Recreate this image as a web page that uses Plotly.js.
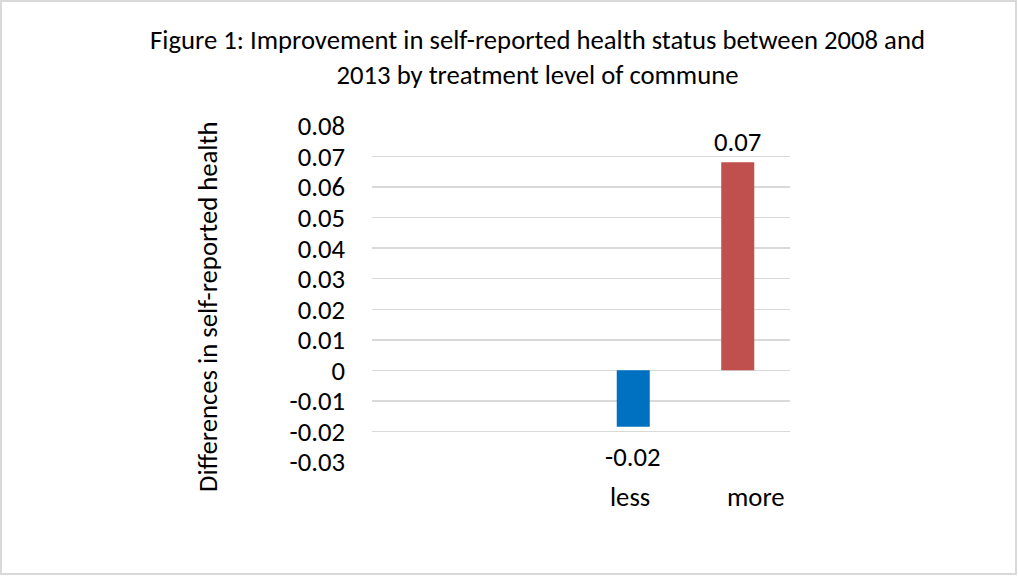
<!DOCTYPE html>
<html><head><meta charset="utf-8">
<script src="https://cdn.plot.ly/plotly-3.0.1.min.js"></script>
<style>html,body{margin:0;padding:0;background:#fff;}#chart{width:1018px;height:577px;}</style>
</head><body><div id="chart"></div>
<script>
const categories = ["", " ", "less", "more"];
const labelCategories = ["less", "more"];
const lessValue = [-0.0185];
const moreValue = [0.0681];
const barColors = ["#0070C0", "#C0504D"];
const titleText = "Figure 1: Improvement in self-reported health status between 2008 and<br>2013 by treatment level of commune";
const yTitle = "Differences in self-reported health";
const yTicks = [0.08, 0.07, 0.06, 0.05, 0.04, 0.03, 0.02, 0.01, 0, -0.01, -0.02, -0.03];
const yTickText = ["0.08","0.07","0.06","0.05","0.04","0.03","0.02","0.01","0","-0.01","-0.02","-0.03"];

const FONT = "Carlito, Calibri, 'Open Sans', sans-serif";
const FS = 26.7;

const traces = [
  {type:'bar', x:[labelCategories[0]], y:lessValue, marker:{color:barColors[0]}, width:0.316, hoverinfo:'none'},
  {type:'bar', x:[labelCategories[1]], y:moreValue, marker:{color:barColors[1]}, width:0.316, hoverinfo:'none'}
];

const valueLabels = [
  {x:labelCategories[0], y:lessValue[0], text:lessValue[0].toFixed(2), yanchor:'middle', yshift:-30},
  {x:labelCategories[1], y:moreValue[0], text:moreValue[0].toFixed(2), yanchor:'middle', yshift:20}
].map(a=>Object.assign({xref:'x', yref:'y', showarrow:false, xanchor:'center',
   font:{family:FONT, size:FS, color:'#000'}}, a));

const layout = {
  width:1018, height:577,
  margin:{l:372, r:228, t:126, b:115},
  paper_bgcolor:'#fff', plot_bgcolor:'#fff',
  showlegend:false, barmode:'overlay',
  font:{family:FONT, size:FS, color:'#000'},
  title:{text:titleText, x:0.528, xanchor:'center', y:0.915, yanchor:'top',
         font:{family:FONT, size:FS, color:'#000'}},
  xaxis:{type:'category', categoryorder:'array', categoryarray:categories, range:[-0.5,3.5],
         showticklabels:false, showgrid:false, zeroline:false, showline:false, ticks:''},
  yaxis:{range:[-0.03,0.08], tickvals:yTicks, ticktext:yTickText, showgrid:true, gridcolor:'#d9d9d9', gridwidth:1.5,
         zeroline:true, zerolinecolor:'#d9d9d9', zerolinewidth:1.5, showline:false, ticks:'', ticklabelstandoff:26,
         tickfont:{family:FONT, size:FS, color:'#000'}},
  annotations: labelCategories.map((c,i)=>({x:c, xref:'x', y:0, yref:'paper', yanchor:'middle', yshift:-35,
      xshift: i===0 ? -3 : 18, text:c, showarrow:false, font:{family:FONT, size:FS, color:'#000'}}))
    .concat([{x:(208-372)/418, xref:'paper', y:(462-307)/336, yref:'paper', text:yTitle, textangle:-90, showarrow:false,
      font:{family:FONT, size:FS, color:'#000'}, xanchor:'center', yanchor:'middle'}])
    .concat(valueLabels)
};
Plotly.newPlot('chart', traces, layout, {staticPlot:true, displayModeBar:false}).then(()=>{
  const svg = document.querySelector('#chart .main-svg');
  const r = document.createElementNS('http://www.w3.org/2000/svg','rect');
  r.setAttribute('x','1'); r.setAttribute('y','1'); r.setAttribute('width','1015'); r.setAttribute('height','573');
  r.setAttribute('fill','none'); r.setAttribute('stroke','#d9d9d9'); r.setAttribute('stroke-width','2');
  svg.appendChild(r);
});
</script></body></html>
